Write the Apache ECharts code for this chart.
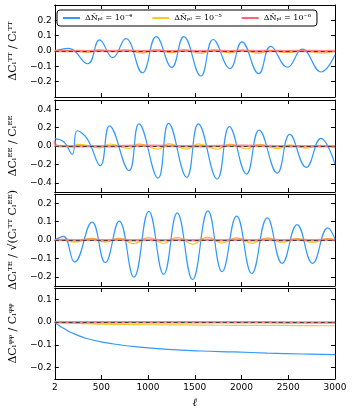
<!DOCTYPE html>
<html>
<head>
<meta charset="utf-8">
<script src="https://cdn.jsdelivr.net/npm/echarts@6/dist/echarts.min.js"></script>
<style>
  html, body { margin: 0; padding: 0; background: #fff; }
  #chart { width: 353px; height: 413px; }
</style>
</head>
<body>
<div id="chart"></div>
<script>
// legend names
const seriesNames = ['ΔÑₚₗ = 10⁻⁴', 'ΔÑₚₗ = 10⁻⁵', 'ΔÑₚₗ = 10⁻⁶'];
const xTicks = [2, 500, 1000, 1500, 2000, 2500, 3000];

// TT panel
const ellTT = [2, 150, 355, 482, 622, 762, 940, 1088, 1254, 1382, 1565, 1697, 1877, 2004, 2184, 2312, 2492, 2650, 2852, 3000];
const TT_N4 = [0.0, 0.017, -0.083, 0.072, -0.043, 0.081, -0.142, 0.094, -0.107, 0.094, -0.163, 0.075, -0.115, 0.06, -0.148, 0.03, -0.106, 0.012, -0.137, -0.025];
const TT_N5 = [0.0, 0.002, -0.008, 0.007, -0.004, 0.008, -0.014, 0.009, -0.011, 0.009, -0.016, 0.007, -0.012, 0.006, -0.015, 0.003, -0.011, 0.001, -0.014, -0.003];
const TT_N6 = [0.0, 0.0, -0.001, 0.001, 0.0, 0.001, -0.001, 0.001, -0.001, 0.001, -0.002, 0.001, -0.001, 0.001, -0.001, 0.0, -0.001, 0.0, -0.001, 0.0];
const ticksTT = [-0.2, -0.1, 0.0, 0.1, 0.2];

// EE panel
const ellEE = [2, 100, 190, 242, 348, 490, 588, 797, 903, 1107, 1220, 1414, 1538, 1740, 1870, 2054, 2188, 2383, 2516, 2693, 2849, 3000];
const EE_N4 = [0.08, 0.044, -0.092, 0.166, 0.08, -0.213, 0.218, -0.268, 0.24, -0.35, 0.247, -0.34, 0.24, -0.36, 0.21, -0.305, 0.173, -0.294, 0.126, -0.232, 0.082, -0.195];
const EE_N5 = [0.008, 0.004, -0.009, 0.017, 0.008, -0.021, 0.022, -0.027, 0.024, -0.035, 0.025, -0.034, 0.024, -0.036, 0.021, -0.03, 0.017, -0.029, 0.013, -0.023, 0.008, -0.02];
const ellEE6 = [2, 25, 500, 1000, 1500, 2000, 2500, 3000];
const EE_N6 = [0.06, 0.0, -0.002, 0.002, -0.003, 0.002, -0.002, -0.002];
const ticksEE = [-0.4, -0.2, 0.0, 0.2, 0.4];

// TE panel
const ellTE = [2, 94, 214, 401, 542, 691, 849, 1008, 1167, 1312, 1476, 1641, 1792, 1948, 2110, 2276, 2435, 2594, 2760, 2923, 3000];
const TE_N4 = [0.0, 0.02, -0.12, 0.097, -0.123, 0.103, -0.202, 0.156, -0.187, 0.147, -0.215, 0.158, -0.172, 0.13, -0.182, 0.12, -0.127, 0.084, -0.127, 0.066, 0.005];
const TE_N5 = [0.0, 0.002, -0.012, 0.01, -0.012, 0.01, -0.02, 0.015, -0.019, 0.015, -0.022, 0.016, -0.017, 0.013, -0.018, 0.012, -0.013, 0.008, -0.013, 0.007, 0.0];
const TE_N6 = [0.0, 0.0, -0.001, 0.001, -0.001, 0.001, -0.002, 0.002, -0.002, 0.001, -0.002, 0.002, -0.002, 0.001, -0.002, 0.001, -0.001, 0.001, -0.001, 0.001, 0.0];
const ticksTE = [-0.2, -0.1, 0.0, 0.1, 0.2];

// phi-phi panel
const ellPP = [2, 50, 100, 158, 250, 334, 510, 700, 864, 1217, 1570, 1923, 2276, 2650, 3000];
const PP_N4 = [0.0, -0.016, -0.028, -0.042, -0.058, -0.071, -0.088, -0.1, -0.108, -0.12, -0.127, -0.131, -0.136, -0.14, -0.143];
const PP_N5 = [0.0, -0.002, -0.003, -0.004, -0.006, -0.007, -0.009, -0.01, -0.011, -0.012, -0.013, -0.014, -0.014, -0.015, -0.016];
const PP_N6 = [0.0, 0.0, 0.0, 0.0, -0.001, -0.001, -0.001, -0.001, -0.001, -0.001, -0.001, -0.001, -0.001, -0.002, -0.002];
const ticksPP = [-0.2, -0.1, 0.0, 0.1];

const colors = ['#3399ff', '#ffc629', '#ff6474'];

const panels = [
  { top: 5, height: 92, min: -0.3, max: 0.3, ticks: ticksTT, name: 'ΔCₗᵀᵀ / Cₗᵀᵀ',
    lines: [[ellTT, TT_N4], [ellTT, TT_N5], [ellTT, TT_N6]] },
  { top: 100, height: 92, min: -0.5, max: 0.5, ticks: ticksEE, name: 'ΔCₗᴱᴱ / Cₗᴱᴱ',
    lines: [[ellEE, EE_N4], [ellEE, EE_N5], [ellEE6, EE_N6]] },
  { top: 194, height: 92, min: -0.25, max: 0.25, ticks: ticksTE, name: 'ΔCₗᵀᴱ / √(Cₗᵀᵀ Cₗᴱᴱ)',
    lines: [[ellTE, TE_N4], [ellTE, TE_N5], [ellTE, TE_N6]] },
  { top: 288, height: 91, min: -0.25, max: 0.15, ticks: ticksPP, name: 'ΔCₗᵠᵠ / Cₗᵠᵠ',
    lines: [[ellPP, PP_N4], [ellPP, PP_N5], [ellPP, PP_N6]] },
];

const fmt = (v) => (v < 0 ? '−' : '') + Math.abs(v).toFixed(1);
const axisLine = { show: true, onZero: false, lineStyle: { color: '#000', width: 1 } };

let grid = [], xAxis = [], yAxis = [], series = [];
panels.forEach((p, i) => {
  grid.push({ left: 52, right: 18, top: p.top, height: p.height });
  const last = i === panels.length - 1;
  // bottom + top x axes
  ['bottom', 'top'].forEach((pos) => {
    xAxis.push({
      type: 'value', gridIndex: i, position: pos, min: 2, max: 3000,
      axisLine: axisLine,
      axisTick: { show: true, inside: true, length: 4, customValues: xTicks, lineStyle: { color: '#000' } },
      axisLabel: {
        show: last && pos === 'bottom', customValues: xTicks, color: '#000', fontSize: 9, margin: 4,
        fontFamily: 'DejaVu Sans', formatter: (v) => String(v),
      },
      splitLine: { show: false },
      name: last && pos === 'bottom' ? 'ℓ' : '',
      nameLocation: 'middle', nameGap: 19,
      nameTextStyle: { fontSize: 11, fontStyle: 'italic', fontFamily: 'DejaVu Serif', color: '#000' },
    });
  });
  // left + right y axes
  ['left', 'right'].forEach((pos) => {
    yAxis.push({
      type: 'value', gridIndex: i, position: pos, min: p.min, max: p.max,
      axisLine: axisLine,
      axisTick: { show: true, inside: true, length: 4, customValues: p.ticks, lineStyle: { color: '#000' } },
      axisLabel: {
        show: pos === 'left', customValues: p.ticks, formatter: fmt, color: '#000', fontSize: 9, margin: 3,
        fontFamily: 'DejaVu Sans',
      },
      splitLine: { show: false },
      name: pos === 'left' ? p.name : '',
      nameLocation: 'middle', nameGap: 29,
      nameTextStyle: { fontSize: 11, fontFamily: 'DejaVu Serif', color: '#000' },
    });
  });
  p.lines.forEach((ln, k) => {
    const s = {
      name: seriesNames[k],
      type: 'line',
      xAxisIndex: 2 * i,
      yAxisIndex: 2 * i,
      data: ln[0].map((x, j) => [x, ln[1][j]]),
      smooth: 0.45,
      showSymbol: false,
      color: colors[k],
      lineStyle: { width: k === 2 ? 2.5 : 1.2, opacity: k === 2 ? 0.8 : 1 },
      z: 2 + k,
    };
    if (k === 2) {
      s.markLine = {
        silent: true, symbol: 'none', label: { show: false },
        lineStyle: { color: '#444', type: [4, 3], width: 1 },
        data: [{ yAxis: 0 }],
      };
    }
    series.push(s);
  });
});

let chart = echarts.init(document.getElementById('chart'));
chart.setOption({
  animation: false,
  backgroundColor: '#fff',
  legend: {
    data: seriesNames,
    left: 57, top: 10,
    icon: 'rect', itemWidth: 17, itemHeight: 2, itemGap: 20,
    padding: [4, 6],
    borderColor: '#000', borderWidth: 1, borderRadius: 3,
    backgroundColor: '#fff',
    textStyle: { fontSize: 8, fontFamily: 'DejaVu Serif', color: '#000' },
  },
  grid: grid,
  xAxis: xAxis,
  yAxis: yAxis,
  series: series,
});
</script>
</body>
</html>
